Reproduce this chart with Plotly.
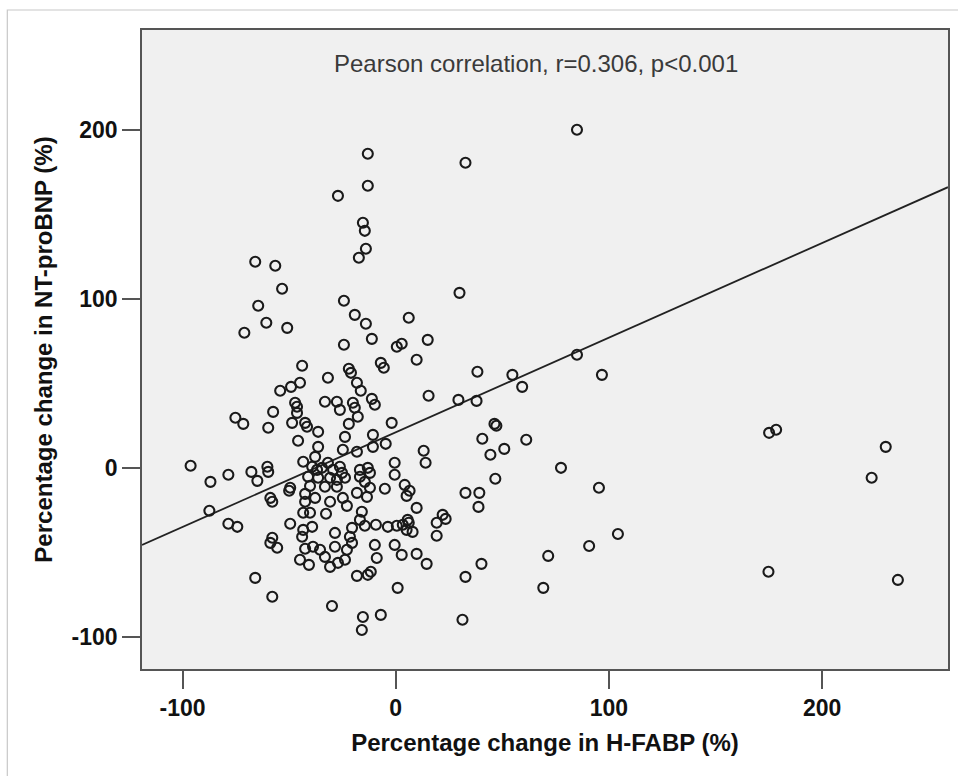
import plotly.graph_objects as go

# Percentage change in H-FABP (%)
x_hfabp = [85.0,-13.1,32.7,-13.1,-27.1,-15.4,-14.5,-14.0,-17.3,-65.9,-56.5,-53.3,29.9,-24.3,-64.5,-19.2,6.1,-60.7,-14.0,-50.9,-71.0,
           -11.2,15.0,-24.3,0.5,2.8,85.0,9.8,-43.9,-7.0,-5.6,-22.0,-21.0,38.3,54.7,96.7,-31.8,-18.2,-44.9,-49.1,-54.2,-16.4,59.3,15.4,29.4,37.9,
           -11.2,-9.8,-33.2,-27.6,-26.2,-20.1,-19.2,-47.2,-46.3,-46.3,-57.5,-17.8,-75.2,-71.5,
           -48.6,-42.5,-41.6,-22.0,-1.9,46.3,47.2,-59.8,-36.4,-10.7,-23.8,-45.8,40.6,61.2,-4.7,-10.7,-36.4,-24.8,50.9,13.1,-18.2,44.4,-37.8,175.1,178.4,229.8,
           -96.2,-60.2,-59.8,-67.7,-78.5,-64.9,-86.9,-43.4,-39.2,-36.9,-34.6,-31.8,-29.4,-26.2,-25.2,-16.8,-13.1,-12.1,-0.5,-0.5,14.0,77.5,
           -41.1,-36.4,-30.8,-27.6,-23.8,-16.8,-14.5,223.2,-49.5,-40.2,-33.2,-27.6,4.2,6.5,5.1,-5.1,46.7,95.3,32.7,39.2,-58.8,-57.9,
           -42.5,-42.5,-37.8,-30.8,-24.8,-22.9,-18.2,-13.5,-12.1,-50.0,
           -43.4,-40.2,-32.7,-15.9,-16.8,-49.5,-39.2,-43.4,-43.9,-28.5,-20.5,-14.5,-9.3,-3.7,0.5,3.3,5.1,-57.9,-58.8,-55.6,
           -38.8,-42.5,-28.5,-35.5,-33.2,-21.5,-20.5,-22.9,-9.8,-8.9,-0.5,2.8,-44.9,-40.7,-30.8,-27.1,-23.8,-18.2,-13.1,-11.7,
           -65.9,-57.9,-29.9,-15.4,-7.0,-15.9,0.9,-87.4,-78.5,-74.3,38.8,9.8,22.0,23.4,19.2,19.2,5.6,6.1,7.9,9.8,
           14.5,40.2,32.7,71.5,69.2,31.3,90.7,104.2,174.8,235.5]

# Percentage change in NT-proBNP (%)
y_ntprobnp = [200.0,185.8,180.5,166.9,160.9,145.0,140.2,129.6,124.3,121.9,119.5,105.9,103.5,98.8,95.9,90.5,88.8,85.8,85.2,82.8,79.9,
              76.3,75.7,72.8,71.6,73.4,66.9,63.9,60.4,62.1,59.2,58.6,56.2,56.8,55.0,55.0,53.3,50.3,50.3,47.9,45.6,45.6,47.9,42.6,40.2,39.6,
              40.8,37.3,39.1,39.1,34.3,38.5,35.5,38.5,36.1,32.5,33.1,30.2,29.6,26.0,
              26.6,26.6,24.3,26.0,26.6,26.0,24.9,23.7,21.3,19.5,18.3,16.0,17.2,16.6,14.2,12.4,12.4,10.7,11.2,10.1,9.5,7.7,6.5,20.7,22.5,12.4,
              1.2,0.6,-2.4,-2.4,-4.1,-7.7,-8.3,3.6,0.6,-1.2,0.0,3.0,-1.2,0.6,-3.0,-1.2,0.0,-3.0,3.0,-4.1,3.0,0.0,
              -5.3,-5.9,-5.9,-7.1,-5.9,-5.3,-8.3,-5.9,-11.8,-10.7,-11.2,-11.2,-10.1,-13.6,-16.6,-12.4,-6.5,-11.8,-14.8,-14.8,-17.8,-20.1,
              -15.4,-20.1,-17.8,-20.1,-17.8,-22.5,-14.8,-17.2,-11.8,-13.6,
              -26.6,-26.6,-27.2,-26.0,-30.8,-33.1,-34.9,-36.7,-40.8,-38.5,-35.5,-34.3,-33.7,-34.9,-34.3,-33.7,-36.7,-41.4,-44.4,-47.3,
              -46.7,-47.9,-46.7,-48.5,-52.7,-40.8,-44.4,-48.5,-45.6,-53.3,-45.6,-51.5,-54.4,-57.4,-58.6,-56.2,-54.4,-63.9,-63.3,-61.5,
              -65.1,-76.3,-81.7,-88.2,-87.0,-95.9,-71.0,-25.4,-33.1,-34.9,-23.1,-23.7,-27.8,-30.2,-32.5,-40.2,-30.8,-32.5,-37.9,-50.9,
              -56.8,-56.8,-64.5,-52.1,-71.0,-89.9,-46.2,-39.1,-61.5,-66.3]

assert len(x_hfabp) == len(y_ntprobnp)

tick_vals = [-100, 0, 100, 200]
tick_text = ["-100", "0", "100", "200"]
x_range = [-119, 259]
y_range = [-119, 259]

# Fit line as drawn in the chart
reg_intercept = 21.0
reg_slope = 0.56

annotation_text = "Pearson correlation, r=0.306, p<0.001"
x_title = "Percentage change in H-FABP (%)"
y_title = "Percentage change in NT-proBNP (%)"

line_x = x_range
line_y = [reg_intercept + reg_slope * v for v in line_x]

fig = go.Figure()
fig.add_trace(go.Scatter(
    x=line_x, y=line_y, mode="lines",
    line=dict(color="#222222", width=1.8),
    hoverinfo="skip",
))
fig.add_trace(go.Scatter(
    x=x_hfabp, y=y_ntprobnp, mode="markers",
    marker=dict(symbol="circle-open", size=10, color="#1a1a1a", line=dict(width=2.1, color="#1a1a1a")),
))

axis_common = dict(
    tickvals=tick_vals, ticktext=tick_text,
    ticks="outside", ticklen=18, tickwidth=1.5, tickcolor="#555555",
    showline=True, linecolor="#555555", linewidth=1.5, mirror=True,
    showgrid=False, zeroline=False,
    tickfont=dict(family="Liberation Sans, Arial, sans-serif", size=23, color="#111111", weight="bold"),
)

fig.update_layout(
    width=958, height=776,
    margin=dict(l=142, r=8, t=30, b=107),
    paper_bgcolor="white",
    plot_bgcolor="#f0f0f0",
    showlegend=False,
    font=dict(family="Liberation Sans, Arial, sans-serif"),
    xaxis=dict(range=x_range, **axis_common,
               title=dict(text=x_title, standoff=14,
                          font=dict(size=24, color="#111111", weight="bold"))),
    yaxis=dict(range=y_range, **axis_common,
               title=dict(text=y_title, standoff=12,
                          font=dict(size=24, color="#111111", weight="bold"))),
    annotations=[dict(
        text=annotation_text, xref="paper", yref="paper",
        x=0.489, y=0.948, xanchor="center", yanchor="middle", showarrow=False,
        font=dict(size=24, color="#3a3a3a"),
    )],
    shapes=[dict(
        type="rect", xref="paper", yref="paper",
        x0=-0.1671, x1=1.03, y0=-0.3, y1=1.0313,
        line=dict(color="#c8c8c8", width=1.2), layer="below",
    )],
)

fig.write_html("out.html")
